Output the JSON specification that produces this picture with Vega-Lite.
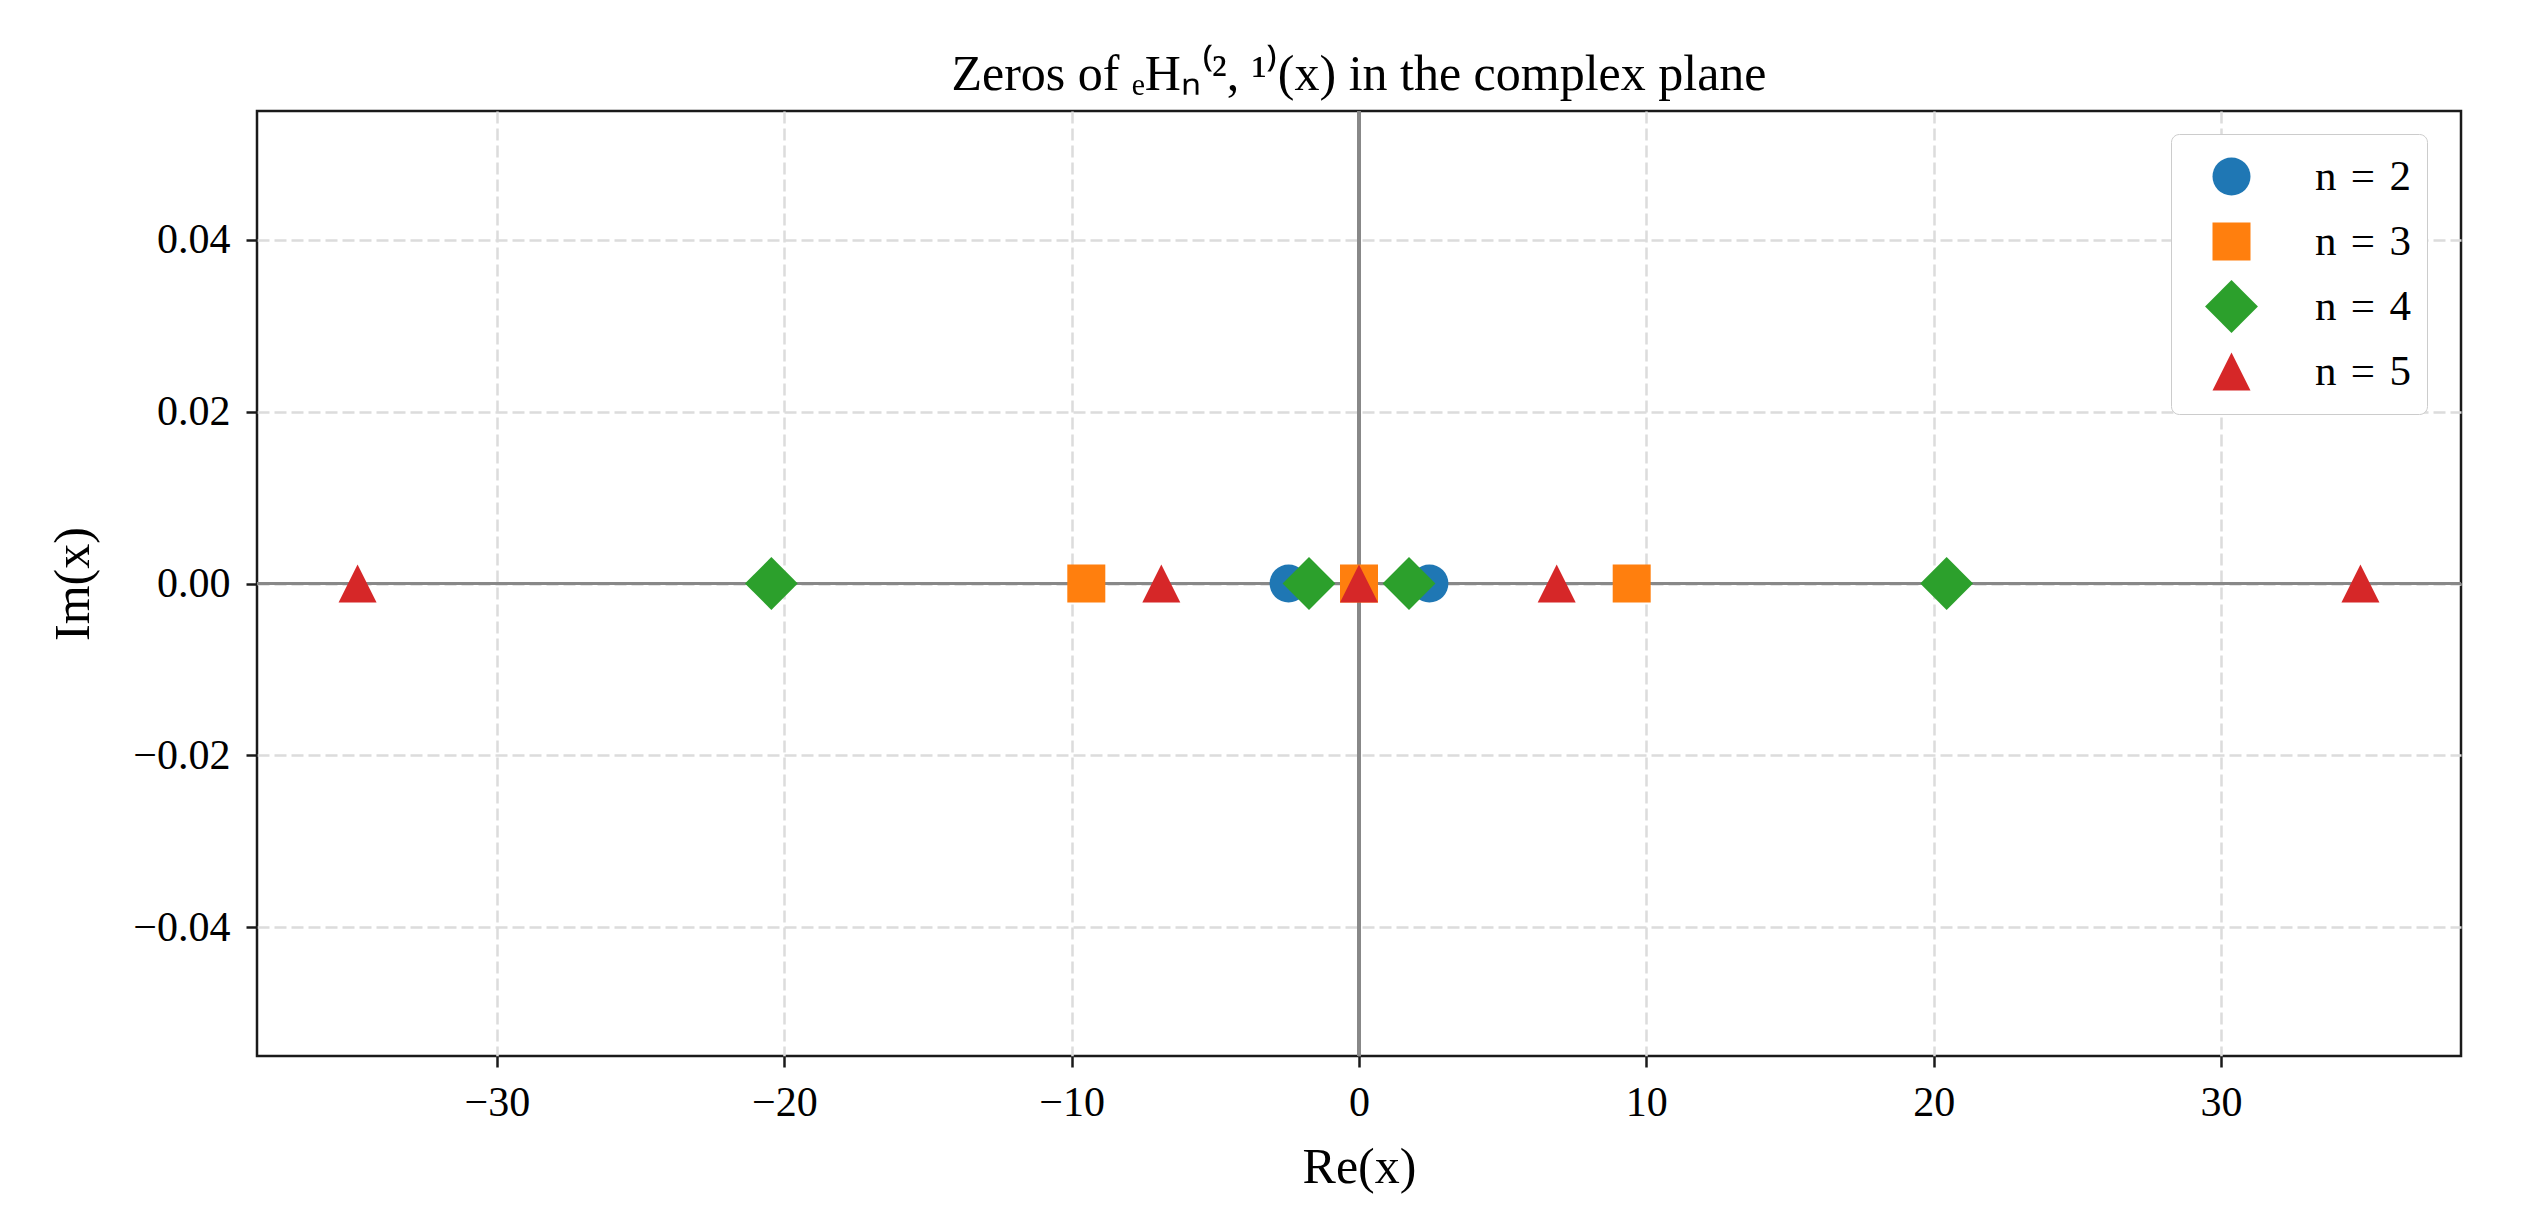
{
  "$schema": "https://vega.github.io/schema/vega-lite/v6.json",
  "width": 2204,
  "height": 945,
  "autosize": "none",
  "padding": {"left": 257, "top": 111, "right": 70, "bottom": 166},
  "title": {
    "text": "Zeros of ₑHₙ⁽², ¹⁾(x) in the complex plane",
    "fontSize": 50,
    "fontWeight": "normal",
    "font": "Liberation Serif",
    "baseline": "alphabetic",
    "offset": -30,
    "anchor": "middle"
  },
  "data": {
    "values": [
      {"n": "n = 2", "re": -2.45, "im": 0},
      {"n": "n = 2", "re": 2.45, "im": 0},
      {"n": "n = 3", "re": -9.49, "im": 0},
      {"n": "n = 3", "re": 0, "im": 0},
      {"n": "n = 3", "re": 9.49, "im": 0},
      {"n": "n = 4", "re": -20.45, "im": 0},
      {"n": "n = 4", "re": -1.74, "im": 0},
      {"n": "n = 4", "re": 1.74, "im": 0},
      {"n": "n = 4", "re": 20.45, "im": 0},
      {"n": "n = 5", "re": -34.85, "im": 0},
      {"n": "n = 5", "re": -6.88, "im": 0},
      {"n": "n = 5", "re": 0, "im": 0},
      {"n": "n = 5", "re": 6.88, "im": 0},
      {"n": "n = 5", "re": 34.85, "im": 0}
    ]
  },
  "layer": [
    {
      "mark": {"type": "rule", "color": "#888888", "strokeWidth": 3},
      "encoding": {"y": {"datum": 0, "type": "quantitative"}}
    },
    {
      "mark": {"type": "rule", "color": "#888888", "strokeWidth": 3},
      "encoding": {"x": {"datum": 0, "type": "quantitative"}}
    },
    {
      "mark": {"type": "point", "filled": true, "opacity": 1, "strokeWidth": 0, "size": 1444},
      "encoding": {
        "x": {
          "field": "re",
          "type": "quantitative",
          "title": "Re(x)",
          "scale": {"domain": [-38.35, 38.35], "nice": false, "zero": false},
          "axis": {
            "values": [-30, -20, -10, 0, 10, 20, 30],
            "format": "d",
            "labelBaseline": "alphabetic",
            "labelPadding": 48,
            "titleBaseline": "alphabetic",
            "titleY": 126
          }
        },
        "y": {
          "field": "im",
          "type": "quantitative",
          "title": "Im(x)",
          "scale": {"domain": [-0.055, 0.055], "nice": false, "zero": false},
          "axis": {
            "values": [-0.04, -0.02, 0, 0.02, 0.04],
            "format": ".2f",
            "labelBaseline": "middle",
            "labelPadding": 16,
            "titleBaseline": "alphabetic",
            "titleX": -169
          }
        },
        "color": {
          "field": "n",
          "type": "nominal",
          "scale": {
            "domain": ["n = 2", "n = 3", "n = 4", "n = 5"],
            "range": ["#1f77b4", "#ff7f0e", "#2ca02c", "#d62728"]
          },
          "legend": {
            "title": null,
            "orient": "none",
            "legendX": 1914,
            "legendY": 23,
            "padding": 16,
            "symbolOffset": 23,
            "labelOffset": 62,
            "clipHeight": 53,
            "rowPadding": 12,
            "symbolSize": 1444,
            "labelFontSize": 43,
            "labelFont": "Liberation Serif",
            "labelColor": "#000000",
            "strokeColor": "#cccccc",
            "fillColor": "#ffffff",
            "cornerRadius": 8,
            "symbolStrokeWidth": 0,
            "symbolOpacity": 1,
            "labelExpr": "replace(datum.label, / /g, '\u2004')"
          }
        },
        "shape": {
          "field": "n",
          "type": "nominal",
          "scale": {
            "domain": ["n = 2", "n = 3", "n = 4", "n = 5"],
            "range": ["circle", "square", "M0,-1.39L1.39,0L0,1.39L-1.39,0Z", "M0,-1L1,1L-1,1Z"]
          }
        }
      }
    }
  ],
  "config": {
    "font": "Liberation Serif",
    "view": {"stroke": "#1a1a1a", "strokeWidth": 2.5},
    "axis": {
      "domain": false,
      "grid": true,
      "gridColor": "#dcdcdc",
      "gridDash": [12, 5],
      "gridWidth": 2.5,
      "ticks": true,
      "tickColor": "#1a1a1a",
      "tickWidth": 2.5,
      "tickSize": 11,
      "labelFontSize": 42,
      "labelFont": "Liberation Serif",
      "labelColor": "#000000",
      "titleFontSize": 50,
      "titleFont": "Liberation Serif",
      "titleFontWeight": "normal",
      "titleColor": "#000000"
    }
  }
}
